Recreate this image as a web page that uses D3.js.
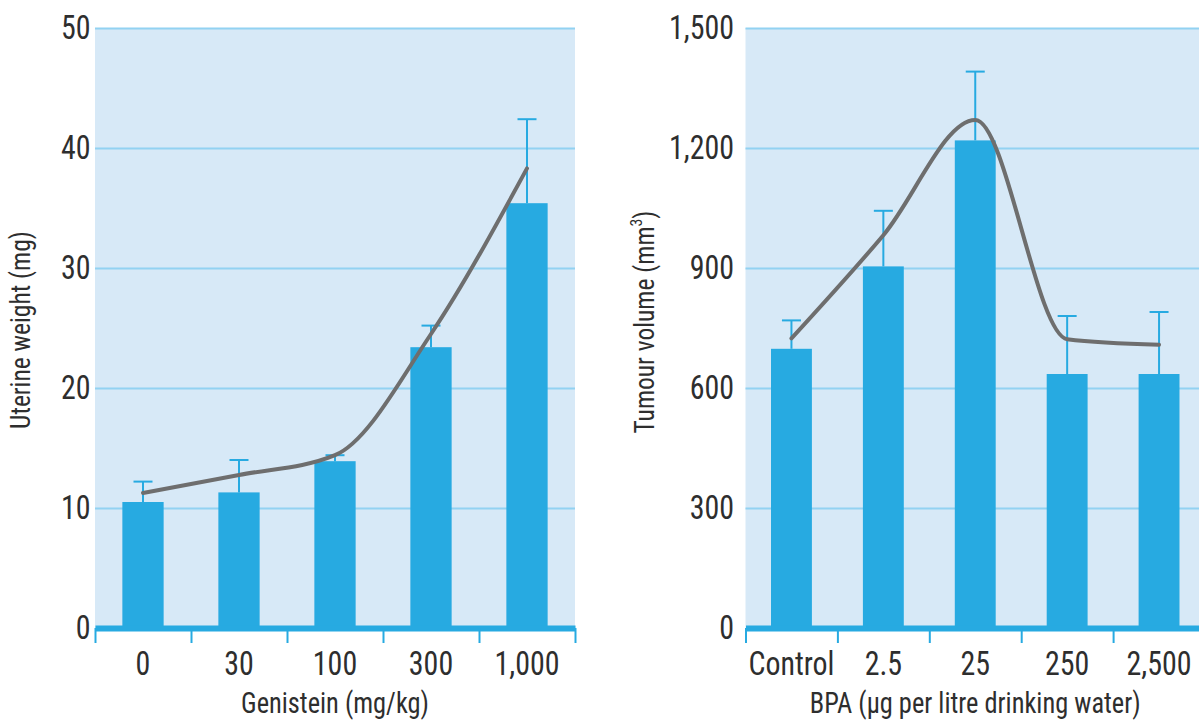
<!DOCTYPE html>
<html>
<head>
<meta charset="utf-8">
<script src="https://cdn.jsdelivr.net/npm/d3@7"></script>
<style>
  body { margin: 0; background: #fff; }
  text { font-family: "Liberation Sans Narrow", "Roboto Condensed", "DejaVu Sans Condensed", sans-serif; fill: #2e2e2e; }
</style>
</head>
<body>
<svg id="chart" width="1199" height="722"></svg>
<script>
// Uterine weight vs genistein dose
const genisteinDoses = ["0", "30", "100", "300", "1,000"];
const uterineWeight = [10.5, 11.3, 13.9, 23.4, 35.4];
const uterineWeightUpper = [12.2, 14.0, 14.4, 25.2, 42.4];
const uterineTrend = [11.25, 12.75, 14.4, 24.5, 38.3];
const uterineTicks = [0, 10, 20, 30, 40, 50];

// Tumour volume vs BPA dose
const bpaDoses = ["Control", "2.5", "25", "250", "2,500"];
const tumourVolume = [698, 904, 1219, 635, 635];
const tumourVolumeUpper = [769, 1043, 1391, 780, 790];
const tumourTrend = [724, 982, 1270, 722, 708];
const tumourTicks = [0, 300, 600, 900, 1200, 1500];

const BAR = "#27aae1", BG = "#d7e9f7", GRID = "#92d2f2", TREND = "#6e6e6e";
const TOP = 28, BASE = 628;
const TICK_SCALE = "scale(0.88,1)";

const svg = d3.select("#chart");

function panel(cfg) {
  const g = svg.append("g");
  const x = d3.scaleBand().domain(cfg.categories).range([cfg.x0, cfg.x1])
    .paddingInner(cfg.pad).paddingOuter(cfg.pad / 2);
  const y = d3.scaleLinear().domain([0, d3.max(cfg.ticks)]).range([BASE, TOP]);
  const edges = d3.scaleLinear().domain([0, cfg.categories.length]).range([cfg.x0, cfg.x1]);

  // plot background
  g.append("rect")
    .attr("x", cfg.x0).attr("y", y(d3.max(cfg.ticks)))
    .attr("width", cfg.x1 - cfg.x0).attr("height", BASE - TOP)
    .attr("fill", BG);

  // gridlines + value labels
  const yAxis = g.append("g")
    .attr("transform", `translate(${cfg.x0},0)`)
    .call(d3.axisLeft(y).tickValues(cfg.ticks).tickFormat(d3.format(","))
      .tickSize(-(cfg.x1 - cfg.x0)).tickPadding(cfg.labelPad));
  yAxis.select(".domain").remove();
  yAxis.selectAll(".tick line").attr("stroke", GRID).attr("stroke-width", 2)
    .filter(d => d === 0).remove();
  yAxis.selectAll(".tick text")
    .attr("font-size", 34).attr("fill", "#2e2e2e")
    .attr("transform", TICK_SCALE);

  // bars
  const cx = d => x(d) + x.bandwidth() / 2;
  g.selectAll(".bar").data(cfg.categories).join("rect")
    .attr("class", "bar")
    .attr("x", d => x(d)).attr("width", x.bandwidth())
    .attr("y", (d, i) => y(cfg.values[i]))
    .attr("height", (d, i) => BASE - y(cfg.values[i]))
    .attr("fill", BAR);

  // error bars
  const err = g.selectAll(".err").data(cfg.categories).join("g").attr("class", "err")
    .attr("stroke", BAR).attr("stroke-width", 2);
  err.append("line")
    .attr("x1", cx).attr("x2", cx)
    .attr("y1", (d, i) => y(cfg.values[i])).attr("y2", (d, i) => y(cfg.upper[i]));
  err.append("line")
    .attr("x1", d => cx(d) - 9.5).attr("x2", d => cx(d) + 9.5)
    .attr("y1", (d, i) => y(cfg.upper[i])).attr("y2", (d, i) => y(cfg.upper[i]));

  // baseline with category dividers
  const base = g.append("g").attr("transform", `translate(0,${BASE})`)
    .call(d3.axisBottom(edges).tickValues(d3.range(cfg.categories.length + 1))
      .tickFormat("").tickSize(15).tickSizeOuter(0));
  base.select(".domain").attr("stroke", BAR).attr("stroke-width", 6);
  base.selectAll(".tick line").attr("stroke", BAR).attr("stroke-width", 2);

  // category labels
  const xAxis = g.append("g").attr("transform", `translate(0,${BASE})`)
    .call(d3.axisBottom(x).tickSize(0).tickPadding(23));
  xAxis.select(".domain").remove();
  xAxis.selectAll(".tick text")
    .attr("font-size", 34).attr("fill", "#2e2e2e")
    .attr("transform", TICK_SCALE);

  // trend curve
  g.append("path")
    .datum(cfg.trend)
    .attr("fill", "none").attr("stroke", TREND).attr("stroke-width", 4)
    .attr("stroke-linecap", "round")
    .attr("d", d3.line()
      .x((d, i) => cx(cfg.categories[i]))
      .y(d => y(d))
      .curve(d3.curveMonotoneX));

  // axis titles
  g.append("text")
    .attr("transform", `translate(${(cfg.x0 + cfg.x1) / 2},713) scale(0.91,1)`)
    .attr("text-anchor", "middle").attr("font-size", 29)
    .text(cfg.xTitle);

  const yt = g.append("text")
    .attr("transform", `translate(${cfg.yTitleX},${cfg.yTitleY}) rotate(-90) scale(0.95,1)`)
    .attr("text-anchor", "middle").attr("font-size", 26.8);
  cfg.yTitle(yt);
}

panel({
  x0: 95, x1: 575, pad: 0.57, labelPad: 5,
  categories: genisteinDoses, values: uterineWeight, upper: uterineWeightUpper,
  trend: uterineTrend, ticks: uterineTicks,
  xTitle: "Genistein (mg/kg)",
  yTitleX: 30, yTitleY: 330,
  yTitle: t => t.text("Uterine weight (mg)")
});

panel({
  x0: 745.5, x1: 1205, pad: 0.555, labelPad: 13,
  categories: bpaDoses, values: tumourVolume, upper: tumourVolumeUpper,
  trend: tumourTrend, ticks: tumourTicks,
  xTitle: "BPA (\u00b5g per litre drinking water)",
  yTitleX: 654, yTitleY: 322,
  yTitle: t => {
    t.append("tspan").text("Tumour volume (mm");
    t.append("tspan").attr("font-size", "0.62em").attr("dy", "-0.75em").text("3");
    t.append("tspan").attr("dy", "0.47em").text(")");
  }
});
</script>
</body>
</html>
